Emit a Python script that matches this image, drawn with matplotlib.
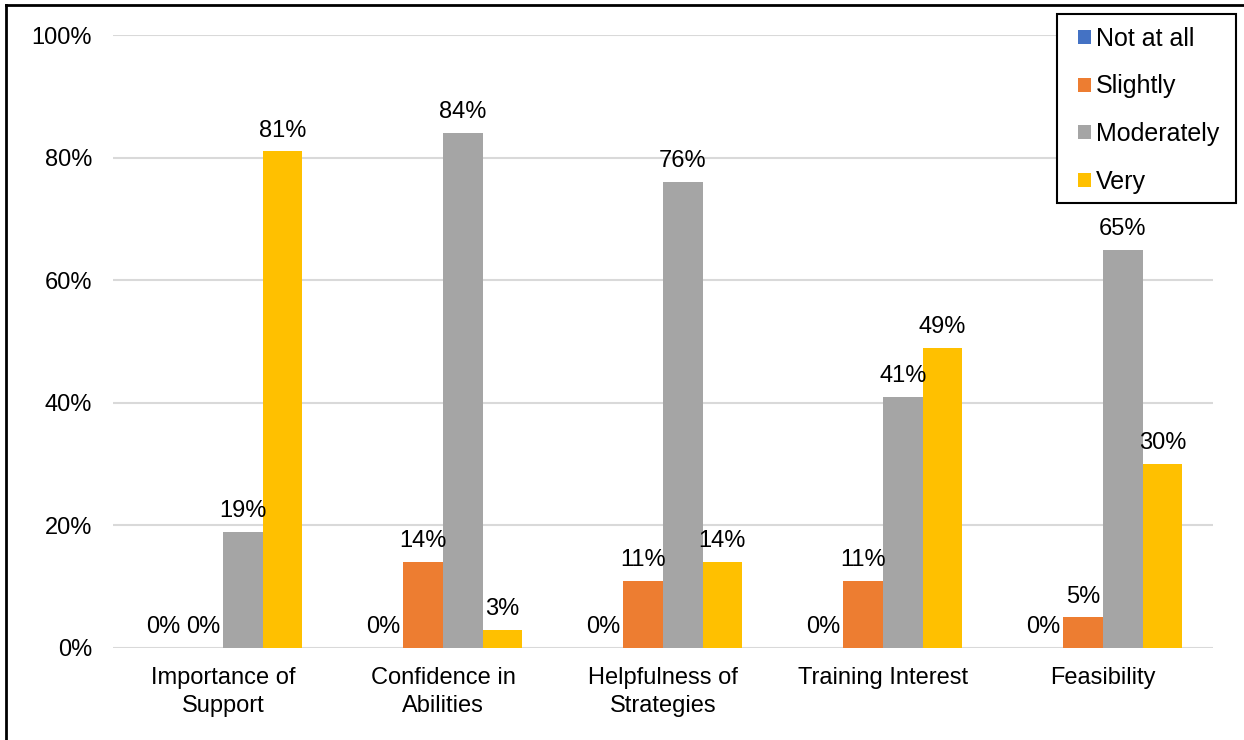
import matplotlib.pyplot as plt
import numpy as np
from matplotlib.lines import Line2D
from matplotlib.patches import Rectangle

plt.rcParams['font.family'] = ['Liberation Sans', 'DejaVu Sans']

# Survey responses, share of respondents per rating
categories = ["Importance of\nSupport", "Confidence in\nAbilities", "Helpfulness of\nStrategies",
              "Training Interest", "Feasibility"]
series = ["Not at all", "Slightly", "Moderately", "Very"]
not_at_all = [0.00, 0.00, 0.00, 0.00, 0.00]
slightly = [0.00, 0.14, 0.11, 0.11, 0.05]
moderately = [0.19, 0.84, 0.76, 0.41, 0.65]
very = [0.81, 0.03, 0.14, 0.49, 0.30]
colors = ["#4472C4", "#ED7D31", "#A5A5A5", "#FFC000"]

W, H = 1244, 740
fig = plt.figure(figsize=(W / 100, H / 100), dpi=100)
ax = fig.add_axes([113 / W, 1 - 648 / H, 1100 / W, 613 / H])

x = np.arange(len(categories))
width = 0.18
for i, (name, vals) in enumerate(zip(series, [not_at_all, slightly, moderately, very])):
    pos = x + (i - 1.5) * width
    ax.bar(pos, vals, width, color=colors[i], label=name, zorder=2)
    for px, v in zip(pos, vals):
        ax.annotate(f"{v:.0%}", (px, v), xytext=(0, 7), textcoords="offset points",
                    ha="center", va="bottom", fontsize=17)

ax.set_xlim(-0.5, len(categories) - 0.5)
ax.set_ylim(0, 1)
yt = np.arange(0, 1.01, 0.2)
ax.set_yticks(yt)
ax.set_yticklabels([f"{t:.0%}" for t in yt])
ax.set_xticks(x)
ax.set_xticklabels(categories, linespacing=1.35)
ax.tick_params(axis="both", length=0, labelsize=17)
ax.tick_params(axis="y", pad=15)
ax.tick_params(axis="x", pad=14)
ax.grid(axis="y", color="#D9D9D9", linewidth=1.5, zorder=0)
for s in ax.spines.values():
    s.set_visible(False)

# legend box drawn separately so the padding can be set on each side
fig.add_artist(Rectangle((1057 / W, 1 - 203 / H), 179 / W, 189 / H, transform=fig.transFigure,
                         facecolor="white", edgecolor="black", linewidth=1.5, zorder=5))
leg = fig.legend(loc="upper left", bbox_to_anchor=(1078 / W, 1 - 27 / H), fontsize=18,
                 frameon=False, handlelength=0.5, handleheight=0.5, handletextpad=0.2,
                 labelspacing=0.94, borderpad=0, borderaxespad=0)
leg.set_zorder(6)

# outer frame along the left and top edges
fig.add_artist(Line2D([6 / W, 6 / W], [0, 1 - 5 / H], color="black", linewidth=2,
                      transform=fig.transFigure))
fig.add_artist(Line2D([6 / W, 1], [1 - 5 / H, 1 - 5 / H], color="black", linewidth=2,
                      transform=fig.transFigure))

fig.savefig("out.png", dpi=100)
